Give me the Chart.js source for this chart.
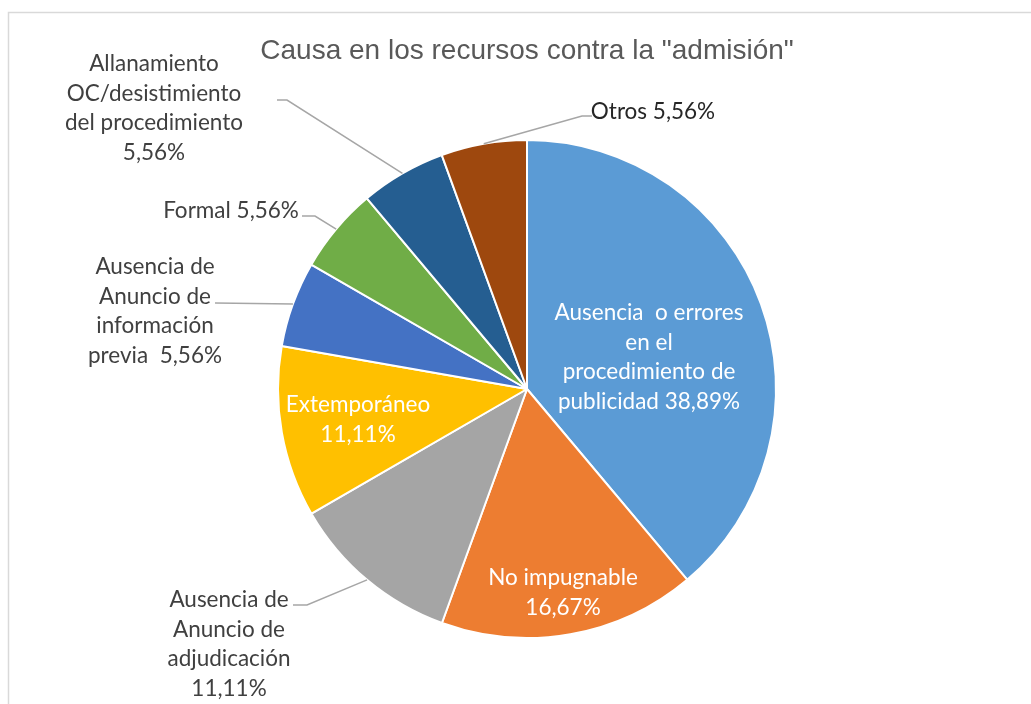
<!DOCTYPE html>
<html>
<head>
<meta charset="utf-8">
<script src="https://cdn.jsdelivr.net/npm/chart.js@4/dist/chart.umd.min.js"></script>
<style>
  html, body { margin: 0; padding: 0; background: #ffffff; }
  #wrap { position: relative; width: 1031px; height: 704px; }
  canvas { display: block; }
</style>
</head>
<body>
<div id="wrap"><canvas id="c" width="1031" height="704"></canvas></div>
<script>
// ---- data ----
const chartTitle = 'Causa en los recursos contra la "admisión"';
const categories = [
  "Ausencia  o errores en el procedimiento de publicidad",
  "No impugnable",
  "Ausencia de Anuncio de adjudicación",
  "Extemporáneo",
  "Ausencia de Anuncio de información previa",
  "Formal",
  "Allanamiento OC/desistimiento del procedimiento",
  "Otros"
];
const values = [38.89, 16.67, 11.11, 11.11, 5.56, 5.56, 5.56, 5.56];
// label text lines; "{p}" is replaced by the formatted value
const labelLines = [
  ["Ausencia  o errores", "en el", "procedimiento de", "publicidad {p}"],
  ["No impugnable", "{p}"],
  ["Ausencia de", "Anuncio de", "adjudicación", "{p}"],
  ["Extemporáneo", "{p}"],
  ["Ausencia de", "Anuncio de", "información", "previa  {p}"],
  ["Formal {p}"],
  ["Allanamiento", "OC/desistimiento", "del procedimiento", "{p}"],
  ["Otros {p}"]
];
const colors = ["#5B9BD5", "#ED7D31", "#A5A5A5", "#FFC000", "#4472C4", "#70AD47", "#255E91", "#9E480E"];

// ---- label layout (offsets from pie centre, px) ----
const labelLayout = [
  { inside: true,  lx: 122,  ly: -76 },
  { inside: true,  lx: 36,   ly: 189 },
  { inside: false, lx: -298, ly: 211, elbow: [-220, 216], end: [-234, 216] },
  { inside: true,  lx: -169, ly: 16 },
  { inside: false, lx: -372, ly: -122, elbow: [-312, -86], end: [-312, -86] },
  { inside: false, lx: -296, ly: -178, elbow: [-212, -173], end: [-225, -173] },
  { inside: false, lx: -373, ly: -325, elbow: [-240, -289], end: [-250, -289] },
  { inside: false, lx: 126,  ly: -277, elbow: [55, -273], end: [65, -273], dark: true }
];

function fmt(v) { return v.toFixed(2).replace('.', ',') + '%'; }

const labelPlugin = {
  id: 'pieLabels',
  afterDraw(chart) {
    const ctx = chart.ctx;
    ctx.save();
    ctx.strokeStyle = '#D9D9D9';
    ctx.lineWidth = 1.5;
    ctx.beginPath();
    ctx.moveTo(8.5, 704);
    ctx.lineTo(8.5, 12.5);
    ctx.lineTo(1031, 12.5);
    ctx.stroke();
    ctx.fillStyle = '#595959';
    ctx.font = '28px "Liberation Sans", Arial, sans-serif';
    ctx.textAlign = 'center';
    ctx.textBaseline = 'alphabetic';
    ctx.fillText(chartTitle, 527, 59);

    const meta = chart.getDatasetMeta(0);
    const lineH = 29.6;
    meta.data.forEach((arc, i) => {
      const p = arc.getProps(['x', 'y', 'startAngle', 'endAngle', 'outerRadius'], true);
      const cx = p.x, cy = p.y;
      const lay = labelLayout[i];
      const mid = (p.startAngle + p.endAngle) / 2;
      if (!lay.inside) {
        const sx = cx + Math.cos(mid) * p.outerRadius;
        const sy = cy + Math.sin(mid) * p.outerRadius;
        ctx.strokeStyle = '#A6A6A6';
        ctx.lineWidth = 1.5;
        ctx.beginPath();
        ctx.moveTo(sx, sy);
        ctx.lineTo(cx + lay.elbow[0], cy + lay.elbow[1]);
        ctx.lineTo(cx + lay.end[0], cy + lay.end[1]);
        ctx.stroke();
      }
      ctx.font = '22.5px Lato, "Noto Sans", sans-serif';
      ctx.textAlign = 'center';
      ctx.textBaseline = 'middle';
      ctx.fillStyle = lay.inside ? '#FFFFFF' : (lay.dark ? '#262626' : '#404040');
      const txt = labelLines[i].map(s => s.replace('{p}', fmt(values[i])));
      txt.forEach((s, k) => {
        ctx.fillText(s, cx + lay.lx, cy + lay.ly + k * lineH);
      });
    });
    ctx.restore();
  }
};

new Chart(document.getElementById('c'), {
  type: 'pie',
  data: {
    labels: categories,
    datasets: [{
      data: values,
      backgroundColor: colors,
      borderColor: '#FFFFFF',
      borderWidth: 2,
      hoverOffset: 0
    }]
  },
  options: {
    responsive: false,
    animation: false,
    layout: { padding: { left: 277, right: 254, top: 139, bottom: 65 } },
    plugins: {
      legend: { display: false },
      title: { display: false },
      tooltip: { enabled: false }
    }
  },
  plugins: [labelPlugin]
});
</script>
</body>
</html>
